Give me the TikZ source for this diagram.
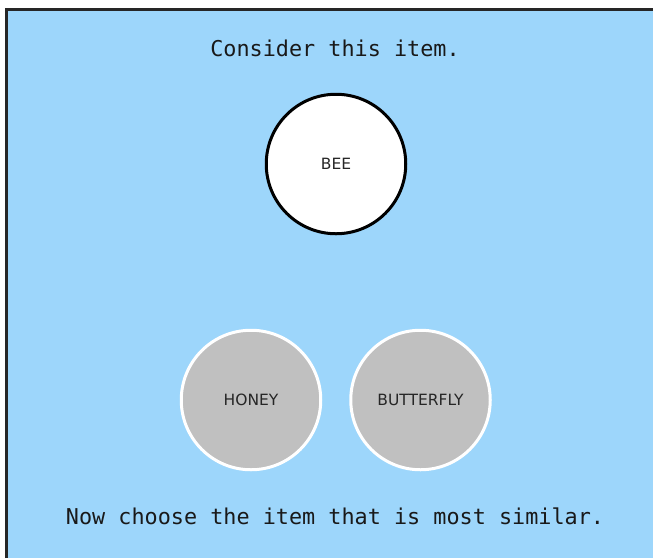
\documentclass[tikz,border=0pt]{standalone}
\usepackage{fontspec}
\setmainfont{DejaVu Sans}
\setmonofont{DejaVu Sans Mono}
\usetikzlibrary{positioning}
\definecolor{skyfill}{RGB}{157,214,251}
\definecolor{optgray}{RGB}{192,192,192}
\tikzstyle{prompt} = [font=\ttfamily\fontsize{21.8}{24}\selectfont, text=black!90]
\tikzstyle{target} = [circle, draw=black, line width=3pt, fill=white, minimum size=139.5pt, text=black!85, font=\fontsize{15.5}{18}\selectfont]
\tikzstyle{choice} = [circle, draw=white, line width=3pt, fill=optgray, minimum size=139.5pt, text=black!85, font=\fontsize{15.5}{18}\selectfont]

\begin{document}
\begin{tikzpicture}[x=1pt, y=-1pt]
        \useasboundingbox (0,0) rectangle (653,558);
        \fill[white] (0,0) rectangle (653,558);
        \fill[skyfill] (6,9) rectangle (653,558);
        \draw[line width=3pt, black!85] (6,558) -- (6,9) -- (653,9);

        \node[prompt] (ask) at (335,48) {Consider this item.};
        \node[target] (bee) at (336,164) {BEE};
        \node[choice] (honey) at (251,400) {HONEY};
        \node[choice, right=27pt of honey] (butterfly) {BUTTERFLY};
        \node[prompt] (pick) at (335,516) {Now choose the item that is most similar.};
    \end{tikzpicture}
\end{document}
